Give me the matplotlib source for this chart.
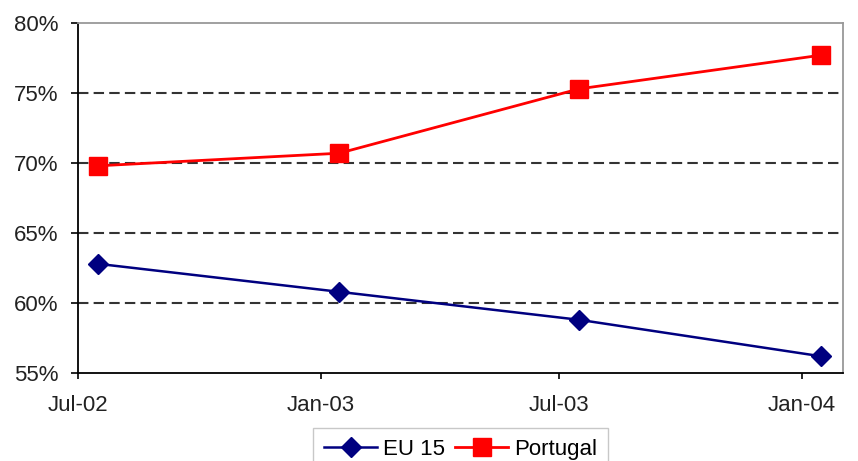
import numpy as np
import pandas as pd
import matplotlib
matplotlib.use('Agg')
import matplotlib.pyplot as plt
import matplotlib.dates as mdates

plt.rcParams['font.family'] = ['Liberation Sans', 'DejaVu Sans']

## DATA
dates = pd.to_datetime(['2002-07-16', '2003-01-15', '2003-07-16', '2004-01-15'])
eu15 = [62.8, 60.8, 58.8, 56.2]
portugal = [69.8, 70.7, 75.3, 77.7]
tick_dates = pd.to_datetime(['2002-07-01', '2003-01-01', '2003-07-01', '2004-01-01'])
yticks = [55, 60, 65, 70, 75, 80]

fig = plt.figure(figsize=(8.58, 4.61), dpi=100)
ax = fig.add_axes([0.0909, 0.1909, 0.8916, 0.7591])

# dashed grid
for y in yticks[1:-1]:
    ax.axhline(y, color='#333333', lw=1.5, ls=(0, (5, 2.5)), zorder=1)

ax.plot(dates, eu15, color='#000080', lw=1.8, marker='D', markersize=10,
        label='EU 15', zorder=3)
ax.plot(dates, portugal, color='#ff0000', lw=2.0, marker='s', markersize=13.5,
        label='Portugal', zorder=3)

ax.set_xlim(pd.Timestamp('2002-07-01'), pd.Timestamp('2004-02-01'))
ax.set_ylim(55, 80)
ax.set_xticks(tick_dates)
ax.xaxis.set_major_formatter(mdates.DateFormatter('%b-%y'))
ax.set_yticks(yticks)
ax.set_yticklabels([f'{v}%' for v in yticks])

for s in ['left', 'bottom']:
    ax.spines[s].set_color('black')
    ax.spines[s].set_linewidth(1.3)
for s in ['top', 'right']:
    ax.spines[s].set_color('#999999')
    ax.spines[s].set_linewidth(1.3)

ax.tick_params(axis='y', direction='out', length=5, width=1.2, labelsize=16,
               colors='black', labelcolor='#222222', pad=9)
ax.tick_params(axis='x', direction='out', length=4, width=1.2, labelsize=16,
               colors='black', labelcolor='#222222', pad=12)

leg = ax.legend(loc='upper center', bbox_to_anchor=(0.5, -0.157), ncol=2,
                frameon=True, fancybox=False, fontsize=16, handlelength=2.4,
                columnspacing=0.45, handletextpad=0.25, borderpad=0.5,
                borderaxespad=0)
leg.get_frame().set_edgecolor('#bbbbbb')
leg.get_frame().set_linewidth(1.0)

fig.savefig('out.png', dpi=100)
